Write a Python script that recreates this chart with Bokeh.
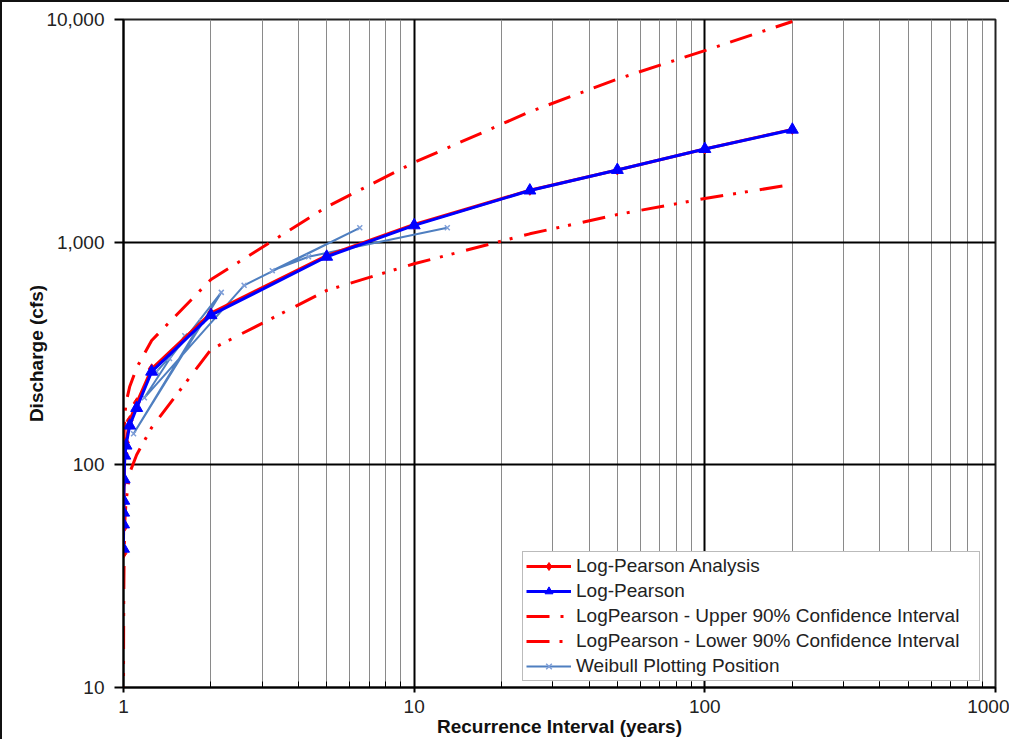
from bokeh.plotting import figure
from bokeh.models import FixedTicker, NumeralTickFormatter, Legend, LegendItem
from bokeh.embed import file_html
from bokeh.resources import INLINE

# ---------------- data ----------------
return_period = [1.0001, 1.0005, 1.001, 1.002, 1.005, 1.01, 1.02, 1.05, 1.11,
                 1.25, 2, 5, 10, 25, 50, 100, 200]
lp_analysis = [40, 52, 60, 68, 84, 112, 126, 158, 190,
               270, 480, 870, 1200, 1710, 2110, 2620, 3210]
lp_fit = [42, 54, 61, 69, 86, 110, 122, 150, 180,
          262, 470, 860, 1190, 1706, 2110, 2620, 3200]
upper_90 = [75, 95, 105, 120, 140, 165, 190, 224, 273,
            362, 680, 1440, 2280, 3850, 5400, 7250, 9800]
lower_90 = [8, 14, 18, 25, 38, 55, 68, 92, 111,
            147, 330, 607, 800, 1090, 1330, 1571, 1815]
weibull_T = [1.3, 1.857, 1.083, 2.17, 1.44, 1.625, 1.18, 2.6, 6.5, 3.25, 4.33, 13]
weibull_Q = [262, 440, 138, 595, 300, 380, 200, 640, 1160, 745, 860, 1160]

x_major = [1, 10, 100, 1000]
y_major = [10, 100, 1000, 10000]
x_minor = [m * d for d in [1, 10, 100] for m in range(2, 10)]

FONT = "Liberation Sans"

p = figure(x_axis_type="log", y_axis_type="log",
           x_range=(1, 1000), y_range=(10, 10000),
           frame_width=872, frame_height=668,
           min_border_left=121, min_border_right=14,
           min_border_top=17, min_border_bottom=50,
           output_backend="svg", toolbar_location=None,
           background_fill_color="white", border_fill_color="white")
p.styles = {"border-top": "2px solid #111", "border-left": "2px solid #111"}
p.outline_line_color = "#222"
p.outline_line_width = 2

# axes
p.xaxis.ticker = FixedTicker(ticks=x_major, minor_ticks=x_minor)
p.yaxis.ticker = FixedTicker(ticks=y_major, minor_ticks=[])
p.xaxis.formatter = NumeralTickFormatter(format="0")
p.yaxis.formatter = NumeralTickFormatter(format="0,0")

for ax in (p.xaxis, p.yaxis):
    ax.axis_line_color = "black"
    ax.axis_line_width = 2
    ax.major_tick_line_color = "black"
    ax.major_tick_line_width = 2
    ax.major_label_text_font = FONT
    ax.major_label_text_font_size = "19px"
    ax.major_label_text_color = "#222"
    ax.axis_label_text_font = FONT
    ax.axis_label_text_font_size = "19px"
    ax.axis_label_text_font_style = "bold"
    ax.axis_label_text_color = "#111"

p.xaxis.axis_label = "Recurrence Interval (years)"
p.yaxis.axis_label = "Discharge (cfs)"
p.xaxis.major_tick_out = 5
p.xaxis.major_tick_in = 0
p.xaxis.minor_tick_in = 6
p.xaxis.minor_tick_out = 0
p.xaxis.minor_tick_line_color = "black"
p.xaxis.minor_tick_line_width = 1
p.xaxis.major_label_text_line_height = 0.8
p.xaxis.axis_label_text_line_height = 0.8
p.xaxis.major_label_standoff = 7
p.xaxis.axis_label_standoff = 0
p.yaxis.major_tick_out = 9
p.yaxis.major_tick_in = 0
p.yaxis.minor_tick_line_color = None
p.yaxis.major_label_standoff = 10
p.yaxis.axis_label_standoff = -4

# grids
p.xgrid.grid_line_color = "black"
p.xgrid.grid_line_width = 2
p.xgrid.minor_grid_line_color = "#8a8a8a"
p.xgrid.minor_grid_line_width = 1
p.ygrid.grid_line_color = "black"
p.ygrid.grid_line_width = 2
p.ygrid.minor_grid_line_color = None

# series
up_l = p.line(return_period, upper_90, line_color="red", line_width=3, line_dash="23 11 3 11")
lo_l = p.line(return_period, lower_90, line_color="red", line_width=3, line_dash="23 10 3 9 3 12")
wb_l = p.line(weibull_T, weibull_Q, line_color="#4F7FC0", line_width=2)
wb_s = p.scatter(weibull_T, weibull_Q, marker="x", size=7, line_color="#7F9FD8", line_width=1.5)
an_l = p.line(return_period, lp_analysis, line_color="red", line_width=3)
an_s = p.scatter(return_period, lp_analysis, marker="diamond", size=10,
                 fill_color="red", line_color="red")
lp_l = p.line(return_period, lp_fit, line_color="#0000FF", line_width=3)
lp_s = p.scatter(return_period, lp_fit, marker="triangle", size=12,
                 fill_color="#0000FF", line_color="#0000FF")

legend = Legend(items=[
    LegendItem(label="Log-Pearson Analysis", renderers=[an_l, an_s]),
    LegendItem(label="Log-Pearson", renderers=[lp_l, lp_s]),
    LegendItem(label="LogPearson - Upper 90% Confidence Interval", renderers=[up_l]),
    LegendItem(label="LogPearson - Lower 90% Confidence Interval", renderers=[lo_l]),
    LegendItem(label="Weibull Plotting Position", renderers=[wb_l, wb_s]),
], location=(399, 6))
legend.padding = 3
legend.spacing = 3
legend.margin = 0
legend.glyph_width = 45
legend.glyph_height = 20
legend.label_height = 20
legend.label_width = 400
legend.label_standoff = 5
legend.label_text_font = FONT
legend.label_text_font_size = "19px"
legend.label_text_color = "#222"
legend.border_line_color = "#777"
legend.border_line_width = 1
legend.background_fill_color = "white"
legend.background_fill_alpha = 1.0
p.add_layout(legend, "center")

open("out.html", "w").write(file_html(p, INLINE))
